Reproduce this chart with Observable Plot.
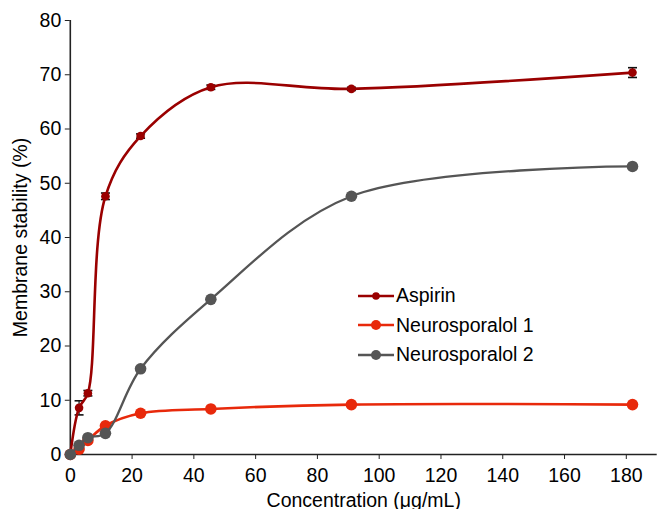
<!DOCTYPE html>
<html>
<head>
<meta charset="utf-8">
<script src="https://cdn.jsdelivr.net/npm/d3@7"></script>
<script src="https://cdn.jsdelivr.net/npm/@observablehq/plot@0.6"></script>
<style>
  body { margin: 0; background: #fff; }
  #wrap { position: relative; width: 660px; height: 509px; font-family: "Liberation Sans", Arial, Helvetica, sans-serif; }
  #legend { position: absolute; left: 358px; top: 281px; font-size: 19.5px; color: #000; }
  .row { display: flex; align-items: center; height: 29.5px; }
  .row svg { display: block; margin-right: 2px; }
</style>
</head>
<body>
<div id="wrap"></div>
<script>
const conc = [0, 2.84, 5.69, 11.375, 22.75, 45.5, 91, 182];
const aspirin = [0, 8.6, 11.3, 47.6, 58.7, 67.7, 67.4, 70.4];
const aspirinErr = [0, 1.3, 0.5, 0.6, 0.4, 0.4, 0.3, 0.9];
const neuro1 = [0, 1.0, 2.6, 5.3, 7.6, 8.4, 9.2, 9.2];
const neuro2 = [0, 1.7, 3.1, 3.9, 15.8, 28.6, 47.6, 53.1];

const seriesNames = ["Aspirin", "Neurosporalol 1", "Neurosporalol 2"];
const seriesColors = ["#9a0000", "#e8290b", "#555555"];
const xTicks = [0, 20, 40, 60, 80, 100, 120, 140, 160, 180];
const yTicks = [0, 10, 20, 30, 40, 50, 60, 70, 80];

const mk = (vals) => conc.map((x, i) => ({x, y: vals[i]}));
const dA = conc.map((x, i) => ({x, y: aspirin[i], e: aspirinErr[i]}));
const d1 = mk(neuro1);
const d2 = mk(neuro2);

const capSymbol = {
  draw(context, size) {
    const w = 4.5;
    context.moveTo(-w, 0);
    context.lineTo(w, 0);
  }
};

const axisColor = "#222";
const chart = Plot.plot({
  width: 660,
  height: 509,
  marginLeft: 69.8,
  marginRight: 3.3,
  marginTop: 20,
  marginBottom: 55,
  style: {fontFamily: "'Liberation Sans', Arial, Helvetica, sans-serif", fontSize: "19.5px", color: "#000", background: "#fff"},
  x: {domain: [0, 190]},
  y: {domain: [0, 80]},
  marks: [
    Plot.axisX({ticks: xTicks, tickSize: 5, tickPadding: 9, stroke: axisColor, label: "Concentration (μg/mL)", labelAnchor: "center", labelArrow: "none"}),
    Plot.axisY({ticks: yTicks, tickSize: 5, tickPadding: 4, stroke: axisColor, label: "Membrane stability (%)", labelAnchor: "center", labelArrow: "none", labelOffset: 57}),
    Plot.ruleX([0], {stroke: axisColor, strokeWidth: 1.6}),
    Plot.ruleY([0], {stroke: axisColor, strokeWidth: 1.6}),
    // Aspirin
    Plot.ruleX(dA.filter(d => d.e > 0), {x: "x", y1: d => d.y - d.e, y2: d => d.y + d.e, stroke: "#111", strokeWidth: 1.2}),
    Plot.dot(dA.filter(d => d.e > 0), {x: "x", y: d => d.y - d.e, symbol: capSymbol, stroke: "#111", strokeWidth: 1.6, r: 4}),
    Plot.dot(dA.filter(d => d.e > 0), {x: "x", y: d => d.y + d.e, symbol: capSymbol, stroke: "#111", strokeWidth: 1.6, r: 4}),
    Plot.line(dA, {x: "x", y: "y", stroke: seriesColors[0], strokeWidth: 2.6, curve: "catmull-rom"}),
    Plot.dot(dA, {x: "x", y: "y", fill: seriesColors[0], r: 4.3}),
    // Neurosporalol 1
    Plot.line(d1, {x: "x", y: "y", stroke: seriesColors[1], strokeWidth: 2.6, curve: "catmull-rom"}),
    Plot.dot(d1, {x: "x", y: "y", fill: seriesColors[1], r: 5.8}),
    // Neurosporalol 2
    Plot.line(d2, {x: "x", y: "y", stroke: seriesColors[2], strokeWidth: 2.3, curve: "catmull-rom"}),
    Plot.dot(d2, {x: "x", y: "y", fill: seriesColors[2], r: 5.8})
  ]
});

const wrap = document.getElementById("wrap");
wrap.appendChild(chart);

const legend = document.createElement("div");
legend.id = "legend";
const radii = [3.8, 5, 5];
seriesNames.forEach((name, i) => {
  const row = document.createElement("div");
  row.className = "row";
  row.innerHTML = `<svg width="36" height="14"><line x1="0" x2="36" y1="7" y2="7" stroke="${seriesColors[i]}" stroke-width="2.6"/><circle cx="18" cy="7" r="${radii[i]}" fill="${seriesColors[i]}"/></svg><span>${name}</span>`;
  legend.appendChild(row);
});
wrap.appendChild(legend);
</script>
</body>
</html>
